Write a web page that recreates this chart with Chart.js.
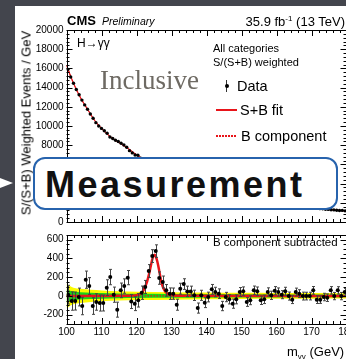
<!DOCTYPE html>
<html>
<head>
<meta charset="utf-8">
<script src="https://cdn.jsdelivr.net/npm/chart.js@4.4.1/dist/chart.umd.min.js"></script>
<style>
html, body { margin: 0; padding: 0; width: 346px; height: 359px; overflow: hidden; background: #43454d; font-family: "Liberation Sans", Arial, sans-serif; }
#sheet { position: absolute; left: 15px; top: 6px; width: 340px; height: 360px; background: #fff; }
canvas { position: absolute; left: 0; }
#topChart { top: 0; }
#botChart { top: 222px; }
.t { position: absolute; white-space: nowrap; color: #000; line-height: 1; }
#ytitle { position: absolute; left: 26px; top: 123px; font-size: 13px; white-space: nowrap; transform: translate(-50%, -50%) rotate(-90deg); }
#arrow { position: absolute; left: 0; top: 178px; width: 0; height: 0; border-left: 13px solid #fff; border-top: 5.5px solid transparent; border-bottom: 5.5px solid transparent; }
#box { position: absolute; left: 33px; top: 157px; width: 305px; height: 53px; box-sizing: border-box; background: #fff; border: 2px solid #2763ad; border-radius: 12px; z-index: 5; }
#measure { position: absolute; left: 45px; top: 167px; font-size: 36px; font-weight: bold; letter-spacing: 2.5px; color: #111; line-height: 1; z-index: 6; }
.leg { position: absolute; }
</style>
</head>
<body>
<div id="sheet"></div>
<div id="arrow"></div>
<canvas id="topChart" width="380" height="240"></canvas>
<canvas id="botChart" width="380" height="137"></canvas>

<div class="t" style="left:67px;top:14px;font-size:13px;font-weight:bold;">CMS</div>
<div class="t" style="left:102px;top:16px;font-size:10.5px;font-style:italic;">Preliminary</div>
<div class="t" style="right:1px;top:15px;font-size:13px;">35.9 fb<sup style="font-size:8px;vertical-align:5px;line-height:0">-1</sup> (13 TeV)</div>
<div class="t" style="left:77px;top:37px;font-size:12px;">H&rarr;&gamma;&gamma;</div>
<div class="t" style="left:100px;top:67px;font-size:27px;font-family:'Liberation Serif','Times New Roman',serif;color:#6e6a63;">Inclusive</div>
<div class="t" style="left:213px;top:43px;font-size:11px;">All categories</div>
<div class="t" style="left:213px;top:57px;font-size:11px;">S/(S+B) weighted</div>
<div class="leg" style="left:226px;top:80px;width:1px;height:12px;background:#333;"></div>
<div class="leg" style="left:224.5px;top:84px;width:4px;height:4px;border-radius:50%;background:#000;"></div>
<div class="t" style="left:237px;top:79px;font-size:14.5px;">Data</div>
<div class="leg" style="left:216px;top:109px;width:21px;height:2px;background:#e8141a;"></div>
<div class="t" style="left:240px;top:103px;font-size:14.5px;">S+B fit</div>
<div class="leg" style="left:216px;top:135px;width:21px;height:1.5px;background:repeating-linear-gradient(90deg,#e8141a 0 1.5px,transparent 1.5px 3px);"></div>
<div class="t" style="left:241px;top:129px;font-size:14.5px;">B component</div>
<div class="t" style="left:213px;top:236.5px;font-size:11.5px;">B component subtracted</div>
<div class="t" style="left:287px;top:345px;font-size:13px;">m<sub style="font-size:8px;vertical-align:-3px;line-height:0">&gamma;&gamma;</sub> (GeV)</div>
<div id="ytitle">S/(S+B) Weighted Events / GeV</div>

<div id="box"></div>
<div id="measure">Measurement</div>

<script>
// upper panel: weighted events per 0.8 GeV bin
let topMass = [100.4, 101.2, 102.0, 102.8, 103.6, 104.4, 105.2, 106.0, 106.8, 107.6,
    108.4, 109.2, 110.0, 110.8, 111.6, 112.4, 113.2, 114.0, 114.8, 115.6,
    116.4, 117.2, 118.0, 118.8, 119.6, 120.4, 121.2, 122.0, 122.8, 123.6,
    124.4, 125.2, 126.0, 126.8, 127.6, 128.4, 129.2, 130.0, 130.8, 131.6,
    132.4, 133.2, 134.0, 134.8, 135.6, 136.4, 137.2, 138.0, 138.8, 139.6,
    140.4, 141.2, 142.0, 142.8, 143.6, 144.4, 145.2, 146.0, 146.8, 147.6,
    148.4, 149.2, 150.0, 150.8, 151.6, 152.4, 153.2, 154.0, 154.8, 155.6,
    156.4, 157.2, 158.0, 158.8, 159.6, 160.4, 161.2, 162.0, 162.8, 163.6,
    164.4, 165.2, 166.0, 166.8, 167.6, 168.4, 169.2, 170.0, 170.8, 171.6,
    172.4, 173.2, 174.0, 174.8, 175.6, 176.4, 177.2, 178.0, 178.8, 179.6];
let topData = [15900, 15100, 14450, 13800, 13250, 12700, 12200, 11750, 11250, 10800,
    10350, 10000, 9750, 9500, 9250, 8850, 8700, 8520, 8380, 8200,
    8020, 7780, 7430, 7200, 6980, 6950, 6650, 6580, 6300, 6230,
    5950, 5900, 5700, 5450, 5380, 5150, 5080, 4870, 4800, 4620,
    4560, 4380, 4320, 4150, 4020, 3990, 3850, 3790, 3640, 3590,
    3460, 3420, 3290, 3250, 3140, 3090, 2970, 2940, 2850, 2800,
    2710, 2680, 2580, 2540, 2460, 2440, 2350, 2310, 2240, 2210,
    2140, 2120, 2050, 2020, 1950, 1930, 1870, 1850, 1790, 1770,
    1710, 1690, 1640, 1620, 1570, 1560, 1510, 1490, 1440, 1430,
    1390, 1370, 1330, 1310, 1280, 1260, 1230, 1200, 1210, 1160];

let fitMass = [100, 102, 104, 106, 108, 110, 112, 114, 116, 118, 120, 125, 130, 135, 140, 145, 150, 155, 160, 165, 170, 175, 180];
let fitTop = [16300, 14450, 12950, 11750, 10600, 9750, 9050, 8500, 8050, 7550, 7000, 5840, 4900, 4140, 3520, 3010, 2590, 2235, 1940, 1690, 1480, 1300, 1150];
let bkgTop = [16300, 14450, 12950, 11750, 10600, 9750, 9050, 8500, 8050, 7550, 6990, 5700, 4890, 4140, 3520, 3010, 2590, 2235, 1940, 1690, 1480, 1300, 1150];

// lower panel: background subtracted, 1 GeV bins
let botMass = [100.5, 101.5, 102.5, 103.5, 104.5, 105.5, 106.5, 107.5, 108.5, 109.5,
    110.5, 111.5, 112.5, 113.5, 114.5, 115.5, 116.5, 117.5, 118.5, 119.5,
    120.5, 121.5, 122.5, 123.5, 124.5, 125.5, 126.5, 127.5, 128.5, 129.5,
    130.5, 131.5, 132.5, 133.5, 134.5, 135.5, 136.5, 137.5, 138.5, 139.5,
    140.5, 141.5, 142.5, 143.5, 144.5, 145.5, 146.5, 147.5, 148.5, 149.5,
    150.5, 151.5, 152.5, 153.5, 154.5, 155.5, 156.5, 157.5, 158.5, 159.5,
    160.5, 161.5, 162.5, 163.5, 164.5, 165.5, 166.5, 167.5, 168.5, 169.5,
    170.5, 171.5, 172.5, 173.5, 174.5, 175.5, 176.5, 177.5, 178.5, 179.5];
let botData = [13, -55, -55, -12, -108, 173, 105, -108, -65, -76,
    -76, 88, 201, 13, -147, 59, 105, 195, -60, -83,
    -47, 34, 95, 265, 425, 478, 190, 148, 59, 24,
    24, -94, 77, 126, 48, 48, 6, -130, 6, -72,
    -12, 70, 41, 24, -108, -12, -37, -83, -37, 41,
    49, -65, -47, 59, 49, -47, -37, 41, 6, 55,
    41, 13, 49, -2, -40, 41, 24, -2, -2, -2,
    59, -40, -40, -12, -19, 59, -2, 59, -2, 41];
let botErr = [100, 98, 96, 95, 93, 92, 90, 89, 88, 86,
    85, 84, 82, 81, 80, 78, 77, 76, 75, 74,
    72, 71, 70, 69, 68, 67, 66, 64, 62, 61,
    60, 59, 58, 57, 56, 56, 55, 54, 54, 53,
    52, 52, 51, 51, 50, 50, 49, 49, 48, 48,
    47, 47, 47, 46, 46, 45, 45, 45, 44, 44,
    44, 43, 43, 43, 42, 42, 42, 42, 41, 41,
    41, 41, 40, 40, 40, 40, 39, 39, 39, 39];

let sigMass = [100, 118, 120, 121, 122, 122.6, 123, 123.5, 123.8, 124.2, 124.7, 125.2, 125.7, 126.2, 126.6, 127, 127.5, 128, 128.5, 129, 130, 131, 133, 180];
let sigVal = [0, 2, 8, 20, 60, 110, 150, 220, 270, 340, 415, 440, 400, 325, 245, 165, 100, 60, 35, 22, 10, 5, 2, 0];

let bandMass = [100, 100.5, 101, 102, 104, 107, 110, 115, 120, 130, 140, 150, 160, 170, 180];
let yellowHalf = [135, 120, 105, 88, 75, 65, 58, 50, 45, 40, 36, 33, 31, 30, 28];
let greenHalf = [70, 62, 55, 46, 38, 33, 30, 26, 23, 21, 19, 17, 16, 15, 14];

let massTicks = [100, 110, 120, 130, 140, 150, 160, 170, 180];
let topTicks = [0, 2000, 4000, 6000, 8000, 10000, 12000, 14000, 16000, 18000, 20000];
let botTicks = [-200, 0, 200, 400, 600];

function pts(xs, ys) {
    return xs.map((x, i) => ({x: x, y: ys[i]}));
}

const errorBars = {
    id: 'errorBars',
    beforeDatasetDraw(chart, args) {
        let ds = chart.data.datasets[args.index];
        if (!ds.errors) return;
        let ctx = chart.ctx, x = chart.scales.x, y = chart.scales.y;
        ctx.save();
        ctx.strokeStyle = '#444';
        ctx.lineWidth = 1;
        ctx.beginPath();
        ds.data.forEach((p, i) => {
            let px = Math.round(x.getPixelForValue(p.x)) + 0.5;
            let y1 = y.getPixelForValue(p.y + ds.errors[i]);
            let y2 = y.getPixelForValue(p.y - ds.errors[i]);
            ctx.moveTo(px, y1); ctx.lineTo(px, y2);
            ctx.moveTo(px - 1.5, y1); ctx.lineTo(px + 1.5, y1);
            ctx.moveTo(px - 1.5, y2); ctx.lineTo(px + 1.5, y2);
        });
        ctx.stroke();
        ctx.restore();
    }
};

const frameTicks = {
    id: 'frameTicks',
    afterDatasetsDraw(chart, args, opts) {
        let ctx = chart.ctx, a = chart.chartArea, x = chart.scales.x, y = chart.scales.y;
        ctx.save();
        ctx.strokeStyle = '#000';
        ctx.lineWidth = 1;
        ctx.beginPath();
        let nx = Math.round((x.max - x.min) / opts.xMinor);
        for (let i = 0; i <= nx; i++) {
            let v = x.min + i * opts.xMinor;
            let px = Math.round(x.getPixelForValue(v)) + 0.5;
            let len = massTicks.includes(v) ? 6 : 3;
            ctx.moveTo(px, a.bottom); ctx.lineTo(px, a.bottom - len);
            ctx.moveTo(px, a.top); ctx.lineTo(px, a.top + len);
        }
        let ny = Math.round((y.max - y.min) / opts.yMinor);
        for (let i = 0; i <= ny; i++) {
            let v = y.min + i * opts.yMinor;
            let py = Math.round(y.getPixelForValue(v)) + 0.5;
            let len = opts.yMajor.includes(v) ? 6 : 3;
            ctx.moveTo(a.left, py); ctx.lineTo(a.left + len, py);
            ctx.moveTo(a.right, py); ctx.lineTo(a.right - len, py);
        }
        ctx.stroke();
        ctx.strokeRect(Math.round(a.left) + 0.5, Math.round(a.top) + 0.5, Math.round(a.right - a.left), Math.round(a.bottom - a.top));
        ctx.restore();
    }
};

const tickFont = {family: "'Liberation Sans', Arial, sans-serif", size: 10};
const plainLabel = v => String(v);

let topChart = new Chart(document.getElementById('topChart'), {
    type: 'scatter',
    data: {
        datasets: [{
            label: 'Data',
            data: pts(topMass, topData),
            pointRadius: 1.7,
            pointBackgroundColor: '#000',
            pointBorderWidth: 0,
            order: 0
        }, {
            label: 'S+B fit',
            data: pts(fitMass, fitTop),
            showLine: true,
            cubicInterpolationMode: 'monotone',
            borderColor: '#e8141a',
            borderWidth: 1.2,
            pointRadius: 0,
            order: 1
        }, {
            label: 'B component',
            data: pts(fitMass, bkgTop),
            showLine: true,
            cubicInterpolationMode: 'monotone',
            borderColor: '#e8141a',
            borderWidth: 1,
            borderDash: [1.5, 1.5],
            pointRadius: 0,
            order: 2
        }]
    },
    options: {
        responsive: false,
        animation: false,
        layout: {padding: {left: 0, top: 30, right: 33.5, bottom: 18}},
        plugins: {legend: {display: false}, tooltip: {enabled: false},
            frameTicks: {xMinor: 2, yMinor: 400, yMajor: topTicks}},
        scales: {
            x: {type: 'linear', min: 100, max: 180, display: false},
            y: {
                min: 0, max: 20000,
                afterBuildTicks: s => { s.ticks = topTicks.map(v => ({value: v})); },
                afterFit: s => { s.width = 66.5; },
                grid: {display: false, drawTicks: false},
                border: {display: false},
                ticks: {font: tickFont, color: '#000', padding: 3, callback: plainLabel}
            }
        }
    },
    plugins: [frameTicks]
});

let botChart = new Chart(document.getElementById('botChart'), {
    type: 'scatter',
    data: {
        datasets: [{
            label: 'Data',
            data: pts(botMass, botData),
            errors: botErr,
            pointRadius: 2,
            pointBackgroundColor: '#000',
            pointBorderWidth: 0,
            order: 0
        }, {
            label: 'S+B fit',
            data: pts(sigMass, sigVal),
            showLine: true,
            cubicInterpolationMode: 'monotone',
            borderColor: '#e8141a',
            borderWidth: 2.5,
            pointRadius: 0,
            order: 1
        }, {
            label: 'B component',
            data: pts(bandMass, bandMass.map(() => 0)),
            showLine: true,
            borderColor: '#e8141a',
            borderWidth: 1.2,
            borderDash: [1.5, 1.5],
            pointRadius: 0,
            order: 2
        }, {
            label: '1 sigma up',
            data: pts(bandMass, greenHalf),
            showLine: true,
            cubicInterpolationMode: 'monotone',
            borderWidth: 0,
            pointRadius: 0,
            backgroundColor: '#19d219',
            fill: '+1',
            order: 3
        }, {
            label: '1 sigma down',
            data: pts(bandMass, greenHalf.map(v => -v)),
            showLine: true,
            cubicInterpolationMode: 'monotone',
            borderWidth: 0,
            pointRadius: 0,
            order: 4
        }, {
            label: '2 sigma up',
            data: pts(bandMass, yellowHalf),
            showLine: true,
            cubicInterpolationMode: 'monotone',
            borderWidth: 0,
            pointRadius: 0,
            backgroundColor: '#fbfb00',
            fill: '+1',
            order: 5
        }, {
            label: '2 sigma down',
            data: pts(bandMass, yellowHalf.map(v => -v)),
            showLine: true,
            cubicInterpolationMode: 'monotone',
            borderWidth: 0,
            pointRadius: 0,
            order: 6
        }]
    },
    options: {
        responsive: false,
        animation: false,
        layout: {padding: {left: 0, top: 13, right: 33.5, bottom: 0}},
        plugins: {legend: {display: false}, tooltip: {enabled: false},
            frameTicks: {xMinor: 2, yMinor: 50, yMajor: botTicks}},
        scales: {
            x: {
                type: 'linear', min: 100, max: 180,
                afterBuildTicks: s => { s.ticks = massTicks.map(v => ({value: v})); },
                afterFit: s => { s.height = 35; },
                grid: {display: false, drawTicks: false},
                border: {display: false},
                ticks: {font: tickFont, color: '#000', padding: 2, maxRotation: 0, autoSkip: false, callback: plainLabel}
            },
            y: {
                min: -300, max: 650,
                afterBuildTicks: s => { s.ticks = botTicks.map(v => ({value: v})); },
                afterFit: s => { s.width = 66.5; },
                grid: {display: false, drawTicks: false},
                border: {display: false},
                ticks: {font: tickFont, color: '#000', padding: 3, callback: plainLabel}
            }
        }
    },
    plugins: [errorBars, frameTicks]
});
</script>
</body>
</html>
